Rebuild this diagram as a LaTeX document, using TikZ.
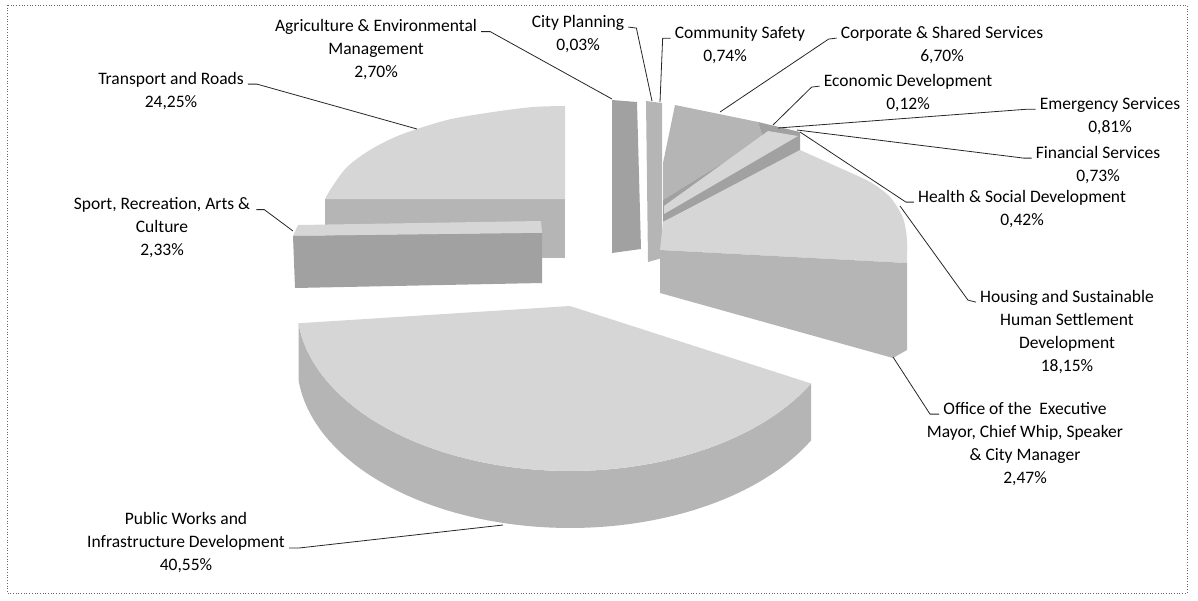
\documentclass[tikz,border=0pt]{standalone}
\usepackage{fontspec}
\setmainfont{Carlito}
\usetikzlibrary{calc}
\begin{document}
\begin{tikzpicture}[x=1pt,y=-1pt,
  lab/.style={align=center,font=\fontsize{17.5}{23}\selectfont,inner sep=0pt},
  lead/.style={draw=black!85,line width=0.8pt},
  topface/.style={fill=black!16},
  sideface/.style={fill=black!29},
  darkface/.style={fill=black!37}]
\useasboundingbox (0,0) rectangle (1198,600);
\draw[dotted,black!60,line width=0.7pt] (7,5) rectangle (1187,593);

% ---- Transport and Roads slice
\fill[sideface] (325,199) rectangle (565,258);
\fill[topface] (565,199) -- (325,199) -- plot[smooth] coordinates {(325,199) (332,187) (347,167) (370,150) (400,135) (447,120) (493,112) (533,107) (565,106)} -- cycle;
% ---- Sport slice
\fill[topface] (293,236) -- (298,225) -- (541,221) -- (542,233) -- cycle;
\fill[darkface] (293,236) -- (542,233) -- (542,283) -- (295,288) -- cycle;

% ---- Public Works slice
\fill[sideface] plot[domain=118:264,samples=60] ({570+273*sin(\x)},{306-165*cos(\x)}) -- plot[domain=264:118,samples=60] ({570+273*sin(\x)},{363-165*cos(\x)}) -- cycle;
\fill[topface] (570,306) -- plot[domain=118:264,samples=60] ({570+273*sin(\x)},{306-165*cos(\x)}) -- cycle;

% ---- small slices (upper right)
\fill[darkface] (612,100) -- (637,102) -- (641,249) -- (612,253) -- cycle;
\fill[sideface] (646,101) -- (662,103) -- (662,258) -- (648,262) -- cycle;
\fill[sideface] (675,105) -- (758,122) -- (763,138) -- (663,200) -- (663,163) -- cycle;
\fill[darkface] (758,122) -- (800,132) -- (800,152) -- (663,222) -- (663,200) -- (763,138) -- cycle;
\fill[topface] (768,131) -- (798,136) -- (664,214) -- (664,206) -- cycle;

% ---- Housing slice
\fill[topface] (663,222) -- (800,150) -- plot[smooth] coordinates {(800,150) (840,168) (870,182) (890,197) (903,218) (907,240) (907,263)} -- (660,250) -- cycle;
\fill[sideface] (660,250) -- (907,263) -- (907,350) -- (893,358) -- (660,293) -- cycle;

% ---- anchor points on the pie
\coordinate (tTrans) at (417,129);
\coordinate (tAgri) at (612,99);
\coordinate (tCity) at (652,101);
\coordinate (tComm) at (660,102);
\coordinate (tCorp) at (720,112);
\coordinate (tEcon) at (773,125);
\coordinate (tEmer) at (778,128);
\coordinate (tFin) at (797,130);
\coordinate (tHea) at (800,132);
\coordinate (tHous) at (900,206);
\coordinate (tOff) at (893,357);
\coordinate (tPW) at (503,525);
\coordinate (tSport) at (293,231);

% ---- labels
\node[lab] (Ltrans) at (171,91) {Transport and Roads\\24,25\%};
\node[lab] (Lagri) at (376,50) {Agriculture \& Environmental\\Management\\2,70\%};
\node[lab] (Lcity) at (578,34) {City Planning\\0,03\%};
\node[lab] (Lcomm) at (740,45) {Community Safety\\0,74\%\hspace*{30pt}};
\node[lab] (Lcorp) at (942,45) {Corporate \& Shared Services\\6,70\%};
\node[lab] (Lecon) at (908,93) {Economic Development\\0,12\%};
\node[lab] (Lemer) at (1110,116) {Emergency Services\\0,81\%};
\node[lab] (Lfin) at (1098,165) {Financial Services\\0,73\%};
\node[lab] (Lhea) at (1022,209) {Health \& Social Development\\0,42\%};
\node[lab] (Lhous) at (1067,332) {Housing and Sustainable\\Human Settlement\\Development\\18,15\%};
\node[lab] (Loff) at (1025,444) {Office of the~ Executive\\Mayor, Chief Whip, Speaker\\\& City Manager\\2,47\%};
\node[lab] (Lpw) at (186,543) {Public Works and\\Infrastructure Development\\40,55\%};
\node[lab] (Lsport) at (162,228) {Sport, Recreation, Arts \&\\Culture\\2,33\%};

% ---- leader lines
\draw[lead] ($(Ltrans.north east)+(4,12)$) -- ++(9,0) -- (tTrans);
\draw[lead] ($(Lagri.north east)+(4,12)$) -- ++(9,0) -- (tAgri);
\draw[lead] ($(Lcity.north east)+(4,12)$) -- ++(8,1) -- (tCity);
\draw[lead] ($(Lcomm.north west)+(-4,12)$) -- ++(-8,0) -- (tComm);
\draw[lead] ($(Lcorp.north west)+(-4,12)$) -- ++(-8,1) -- (tCorp);
\draw[lead] ($(Lecon.north west)+(-4,12)$) -- ++(-8,1) -- (tEcon);
\draw[lead] ($(Lemer.north west)+(-4,12)$) -- ++(-8,0) -- (tEmer);
\draw[lead] ($(Lfin.north west)+(-4,12)$) -- ++(-8,0) -- (tFin);
\draw[lead] ($(Lhea.north west)+(-4,12)$) -- ++(-8,0) -- (tHea);
\draw[lead] ($(Lhous.north west)+(-4,12)$) -- ++(-8,-2) -- (tHous);
\draw[lead] ($(Loff.north)+(-86,12)$) -- ++(-9,0) -- (tOff);
\draw[lead] ($(Lpw.east)+(4,5)$) -- ++(10,0) -- (tPW);
\draw[lead] ($(Lsport.north east)+(6,12)$) -- ++(8,0) -- (tSport);
\end{tikzpicture}
\end{document}
